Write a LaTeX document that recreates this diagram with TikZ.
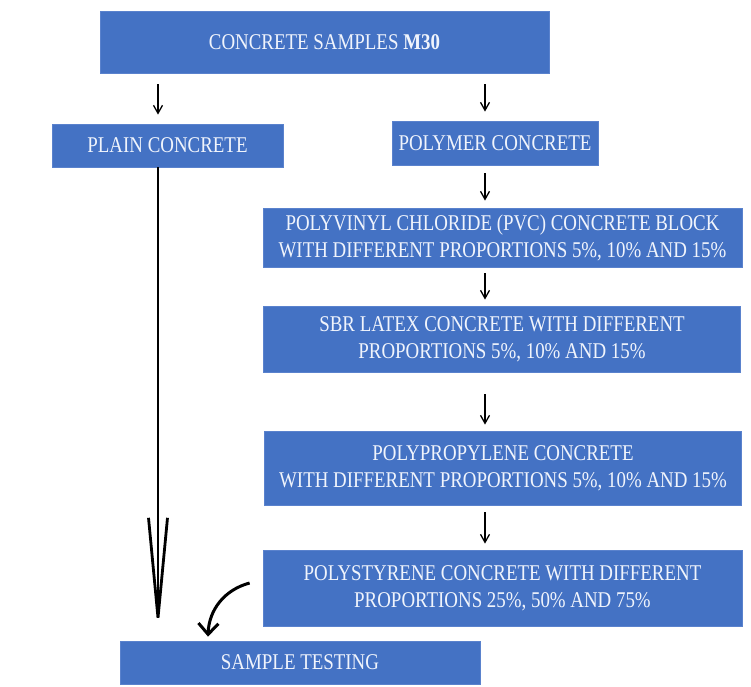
\documentclass[tikz,border=0pt]{standalone}
\usepackage{fontspec}
\setmainfont[FakeStretch=0.84]{Liberation Serif}
\usetikzlibrary{calc, arrows.meta}
\definecolor{boxblue}{RGB}{68, 114, 196}
\definecolor{boxedge}{RGB}{90, 130, 205}
\definecolor{boxtext}{RGB}{240, 244, 252}

\begin{document}
\begin{tikzpicture}[x=1pt, y=-1pt,
    box/.style={fill=boxblue, draw=boxedge, line width=0.8pt, inner sep=0pt,
      align=center, text=boxtext, font=\fontsize{22.5}{27}\selectfont},
    thinarr/.style={-{Straight Barb[length=8pt, width=9pt]}, line width=1.3pt,
      shorten <=11pt, shorten >=9pt},
    bigarr/.style={-{Straight Barb[length=100pt, width=19pt]}, line width=2.8pt}]
  \useasboundingbox (0,0) rectangle (751,686);
  \node[box, minimum width=449pt, minimum height=62pt] (top) at (324.5,42) {CONCRETE SAMPLES \textbf{M30}};
  \node[box, minimum width=231pt, minimum height=43pt] (plain) at (167.5,145.5) {PLAIN CONCRETE};
  \node[box, minimum width=206pt, minimum height=44pt] (poly) at (495,143) {POLYMER CONCRETE};
  \node[box, minimum width=479pt, minimum height=59pt] (pvc) at (502.5,237.5) {POLYVINYL CHLORIDE (PVC) CONCRETE BLOCK\\WITH DIFFERENT PROPORTIONS 5\%, 10\% AND 15\%};
  \node[box, minimum width=477pt, minimum height=66pt] (sbr) at (502,339) {SBR LATEX CONCRETE WITH DIFFERENT\\PROPORTIONS 5\%, 10\% AND 15\%};
  \node[box, minimum width=477pt, minimum height=74pt] (pp) at (503,468) {POLYPROPYLENE CONCRETE\\WITH DIFFERENT PROPORTIONS 5\%, 10\% AND 15\%};
  \node[box, minimum width=479pt, minimum height=76pt] (ps) at (502.5,588) {POLYSTYRENE CONCRETE WITH DIFFERENT\\PROPORTIONS 25\%, 50\% AND 75\%};
  \node[box, minimum width=360pt, minimum height=43pt] (test) at (300,662.5) {SAMPLE TESTING};
  \coordinate (ax) at (485,0);
  \coordinate (lx) at (158,0);
  % small arrows
  \draw[thinarr] (lx |- top.south) -- (lx |- plain.north);
  \draw[thinarr] (ax |- top.south) -- (ax |- poly.north);
  \draw[thinarr, shorten <=8pt, shorten >=7pt] (ax |- poly.south) -- (ax |- pvc.north);
  \draw[thinarr, shorten <=6pt, shorten >=6pt] (ax |- pvc.south) -- (ax |- sbr.north);
  \draw[thinarr, shorten <=22pt, shorten >=6pt] (ax |- sbr.south) -- (ax |- pp.north);
  \draw[thinarr, shorten <=7pt, shorten >=6pt] (ax |- pp.south) -- (ax |- ps.north);
  % to testing
  \draw[bigarr, shorten >=8pt] (lx |- plain.south) -- (lx |- test.north);
  \draw[-{Straight Barb[length=11pt, width=20pt]}, line width=3pt]
    ([xshift=-13pt, yshift=5pt]ps.west) to[out=195, in=88] ([xshift=-92pt, yshift=4pt]test.north);
\end{tikzpicture}
\end{document}
